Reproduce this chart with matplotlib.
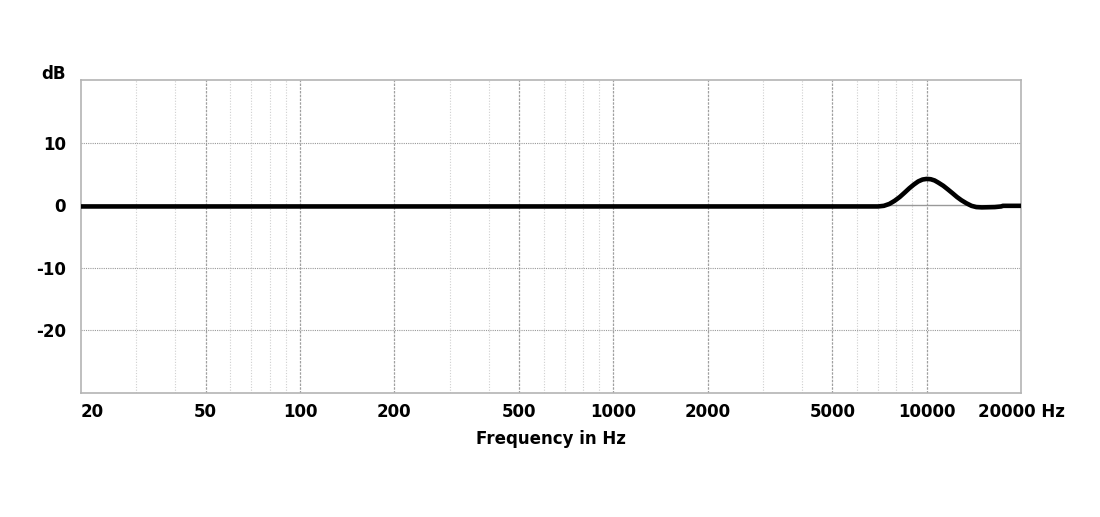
import matplotlib.pyplot as plt
from matplotlib.ticker import FixedLocator, NullFormatter

# frequency response
freq = [20, 1000, 5000, 7000, 7300, 7600, 7900, 8200, 8500, 8800, 9100, 9400, 9700,
        10000, 10300, 10600, 10900, 11300, 11700, 12100, 12500, 12900, 13400,
        13900, 14400, 15000, 16500, 17300, 17500, 20000]
level_db = [-0.2, -0.2, -0.2, -0.2, -0.1, 0.2, 0.7, 1.3, 2.0, 2.7, 3.3, 3.8, 4.1,
            4.2, 4.15, 3.95, 3.6, 3.1, 2.5, 1.9, 1.3, 0.8, 0.3,
            -0.1, -0.3, -0.35, -0.3, -0.2, -0.1, -0.1]

x_ticks = [20, 50, 100, 200, 500, 1000, 2000, 5000, 10000, 20000]
x_labels = ['20', '50', '100', '200', '500', '1000', '2000', '5000', '10000', '20000 Hz']
x_minor = [30, 40, 60, 70, 80, 90, 300, 400, 600, 700, 800, 900,
           3000, 4000, 6000, 7000, 8000, 9000]
y_ticks = [-20, -10, 0, 10]

plt.rcParams['font.family'] = ['DejaVu Sans']

fig = plt.figure(figsize=(11, 5.17), dpi=100)
ax = fig.add_axes([81 / 1100, 1 - 393 / 517, 940 / 1100, 313 / 517])

ax.set_xscale('log')
ax.set_xlim(20, 20000)
ax.set_ylim(-30, 20)

# grid
for f in x_minor:
    ax.axvline(f, color='#d0d0d0', lw=0.8, ls=(0, (1, 1.5)), zorder=1)
for f in x_ticks[1:-1]:
    ax.axvline(f, color='#a0a0a0', lw=0.9, ls=(0, (2, 1)), zorder=1)
for y in [-20, -10, 10]:
    ax.axhline(y, color='#999999', lw=0.8, ls=(0, (1, 1)), zorder=1)
ax.axhline(0, color='#999999', lw=1.0, zorder=1)

ax.plot(freq, level_db, color='black', lw=3.3, solid_capstyle='butt',
        solid_joinstyle='round', zorder=3)

ax.xaxis.set_major_locator(FixedLocator(x_ticks))
ax.xaxis.set_minor_locator(FixedLocator([]))
ax.xaxis.set_minor_formatter(NullFormatter())
ax.set_xticks(x_ticks)
ax.set_xticklabels(x_labels)
ax.set_yticks(y_ticks)
ax.set_yticklabels([str(v) for v in y_ticks])
ax.tick_params(axis='both', length=0, labelsize=12)
ax.tick_params(axis='x', pad=7)
ax.tick_params(axis='y', pad=11)
for lab in ax.get_xticklabels() + ax.get_yticklabels():
    lab.set_fontweight('bold')
ax.get_xticklabels()[0].set_horizontalalignment('left')

for side in ['left', 'bottom', 'top', 'right']:
    ax.spines[side].set_color('#b4b4b4')
    ax.spines[side].set_linewidth(1.2)

ax.text(-15 / 940, 1 + 6 / 313, 'dB', transform=ax.transAxes, ha='right', va='center',
        fontsize=12, fontweight='bold')
ax.set_xlabel('Frequency in Hz', fontsize=12, fontweight='bold', labelpad=7)

fig.savefig('out.png', dpi=100, facecolor='white')
